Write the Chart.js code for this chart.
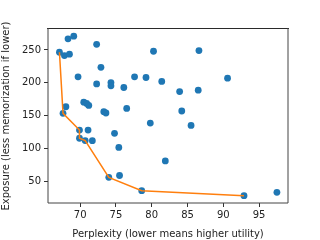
<!DOCTYPE html>
<html>
<head>
<meta charset="utf-8">
<script src="https://cdn.jsdelivr.net/npm/chart.js@4.4.1/dist/chart.umd.min.js"></script>
<style>
  html, body { margin: 0; padding: 0; background: #fff; }
  canvas { display: block; }
</style>
</head>
<body>
<canvas id="c" width="320" height="240"></canvas>
<script>
// perplexity / exposure for every run
const PERPLEXITY = [67.1, 67.8, 68.5, 68.3, 69.1, 72.3, 72.9, 69.7, 72.3, 74.3,
                    74.3, 76.1, 77.6, 79.2, 80.25, 81.4, 83.9, 86.6, 86.5, 90.6,
                    84.2, 85.5, 68.0, 67.6, 70.5, 70.9, 71.2, 73.3, 73.6, 76.5,
                    79.8, 69.9, 71.1, 74.8, 69.9, 70.7, 71.7, 75.4, 81.9, 74.0,
                    75.5, 78.6, 92.9, 97.5];
const EXPOSURE   = [246.5, 241.4, 243.5, 267, 271, 258.6, 223.6, 209, 198.3, 200.3,
                    195.3, 192.8, 209, 208, 248, 202, 186.6, 249, 188.7, 207,
                    157, 135, 163.5, 153.5, 170.5, 168.5, 165.5, 156, 154, 161,
                    138.6, 128, 128, 123, 115.5, 112, 111.8, 101.5, 81, 56,
                    58.8, 35.7, 28.1, 33.2];

// pareto frontier
const FRONT_X = [67.1, 67.6, 69.9, 69.9, 70.7, 74.0, 78.6, 92.9];
const FRONT_Y = [246.5, 153.5, 128, 115.5, 112, 56, 35.7, 28.1];

const XTICKS = [70, 75, 80, 85, 90, 95];
const YTICKS = [50, 100, 150, 200, 250];

const FONT = { family: 'DejaVu Sans', size: 10 };

// matplotlib-style box: top spine crisp, the others land between pixels
const frame = {
    id: 'frame',
    afterDraw(chart) {
        const a = chart.chartArea, c = chart.ctx;
        const l = Math.round(a.left), r = Math.round(a.right);
        const t = Math.round(a.top), b = Math.round(a.bottom);
        c.save();
        c.strokeStyle = '#2a2a2a';
        c.lineWidth = 1;
        c.beginPath();
        c.moveTo(l - 1, t - 0.5); c.lineTo(r + 1, t - 0.5);
        c.stroke();
        c.strokeStyle = '#444';
        c.beginPath();
        c.moveTo(l, t - 1); c.lineTo(l, b);
        c.lineTo(r, b); c.lineTo(r, t - 1);
        c.stroke();
        c.restore();
    }
};

new Chart(document.getElementById('c'), {
    type: 'scatter',
    data: {
        datasets: [
            {
                data: FRONT_X.map((x, i) => ({ x, y: FRONT_Y[i] })),
                showLine: true,
                borderColor: '#ff7f0e',
                borderWidth: 1.5,
                pointRadius: 0,
                fill: false,
                order: 0,
            },
            {
                data: PERPLEXITY.map((x, i) => ({ x, y: EXPOSURE[i] })),
                backgroundColor: '#1f77b4',
                borderWidth: 0,
                pointRadius: 3.4,
                order: 1,
            },
        ],
    },
    options: {
        responsive: false,
        animation: false,
        layout: { padding: { left: 0, top: 29, right: 32, bottom: 0 } },
        plugins: { legend: { display: false }, tooltip: { enabled: false } },
        scales: {
            x: {
                min: 65.5, max: 99.05,
                afterBuildTicks: s => { s.ticks = XTICKS.map(v => ({ value: v })); },
                afterFit: s => { s.height = 37; },
                grid: { drawOnChartArea: false, drawTicks: true, tickLength: 4, color: '#333' },
                border: { display: false },
                ticks: { color: '#222', font: FONT, padding: 2, maxRotation: 0 },
                title: {
                    display: true, text: 'Perplexity (lower means higher utility)',
                    color: '#222', font: FONT, padding: { top: 3, bottom: 0 },
                },
            },
            y: {
                min: 16.9, max: 281.9,
                afterBuildTicks: s => { s.ticks = YTICKS.map(v => ({ value: v })); },
                afterFit: s => { s.width = 48; },
                grid: { drawOnChartArea: false, drawTicks: true, tickLength: 4, color: '#333' },
                border: { display: false },
                ticks: { color: '#222', font: FONT, padding: 3 },
                title: {
                    display: true, text: 'Exposure (less memorization if lower)',
                    color: '#222', font: FONT, padding: { top: 0, bottom: 0 },
                },
            },
        },
    },
    plugins: [frame],
});
</script>
</body>
</html>
